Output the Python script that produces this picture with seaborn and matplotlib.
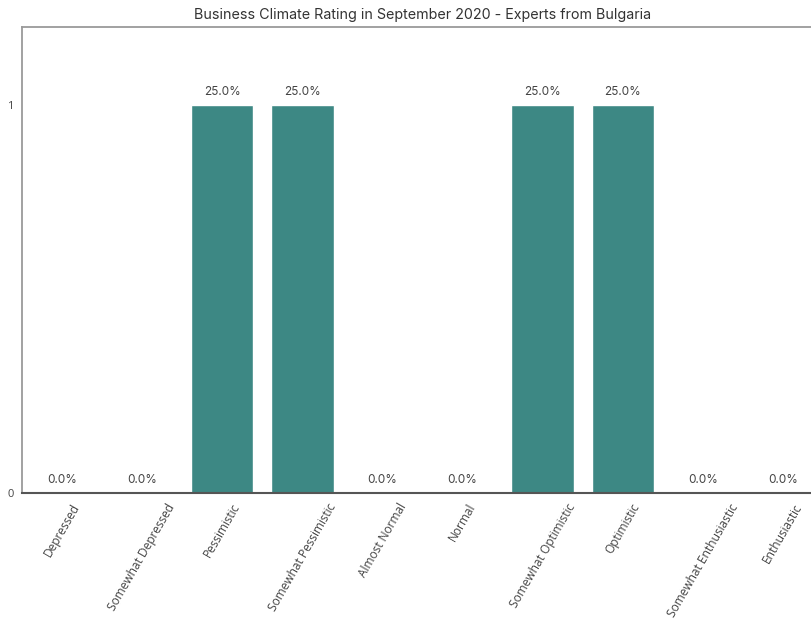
import matplotlib
matplotlib.use("Agg")
import matplotlib.pyplot as plt
import seaborn as sns
import pandas as pd

categories = ["Depressed", "Somewhat Depressed", "Pessimistic", "Somewhat Pessimistic",
              "Almost Normal", "Normal", "Somewhat Optimistic", "Optimistic",
              "Somewhat Enthusiastic", "Enthusiastic"]
counts = [0, 0, 1, 1, 0, 0, 1, 1, 0, 0]

total = sum(counts)
shares = [100.0 * c / total for c in counts]
df = pd.DataFrame({"rating": categories, "count": counts})

sns.set_theme(style="white")
plt.rcParams["font.family"] = ["Inter", "DejaVu Sans"]

fig = plt.figure(figsize=(8.12, 6.2), dpi=100)
W, H = 812, 620
ax = fig.add_axes([22 / W, 127 / H, (823 - 22) / W, (493 - 27) / H])

sns.barplot(data=df, x="rating", y="count", color="#3d8884", saturation=1,
            width=0.78, ax=ax)

ax.set_xlim(-0.5, len(categories) - 0.5)
ax.set_ylim(0, 1.2)
ax.set_yticks([0, 1])
ax.set_yticklabels(["0", "1"], fontsize=8, color="#444444",
                   family=["Open Sans", "DejaVu Sans"])
ax.set_xlabel("")
ax.set_ylabel("")
ax.tick_params(axis="both", length=0, pad=6)
ax.set_xticks(range(len(categories)))
ax.set_xticklabels(categories, rotation=60, ha="center",
                   fontsize=8.6, color="#444444", family=["Open Sans", "DejaVu Sans"])

for i, (c, s) in enumerate(zip(counts, shares)):
    ax.annotate(f"{s:.1f}%", (i, c), xytext=(0, 5), textcoords="offset points",
                ha="center", va="bottom", fontsize=8.5, color="#444444")

for side, sp in ax.spines.items():
    sp.set_color("#9a9a9a")
    sp.set_linewidth(1.3)
ax.spines["bottom"].set_color("#555555")
ax.spines["bottom"].set_linewidth(1.5)

ax.set_title("Business Climate Rating in September 2020 - Experts from Bulgaria",
             fontsize=10.3, color="#333333", pad=6)

fig.savefig("out.png", dpi=100)
